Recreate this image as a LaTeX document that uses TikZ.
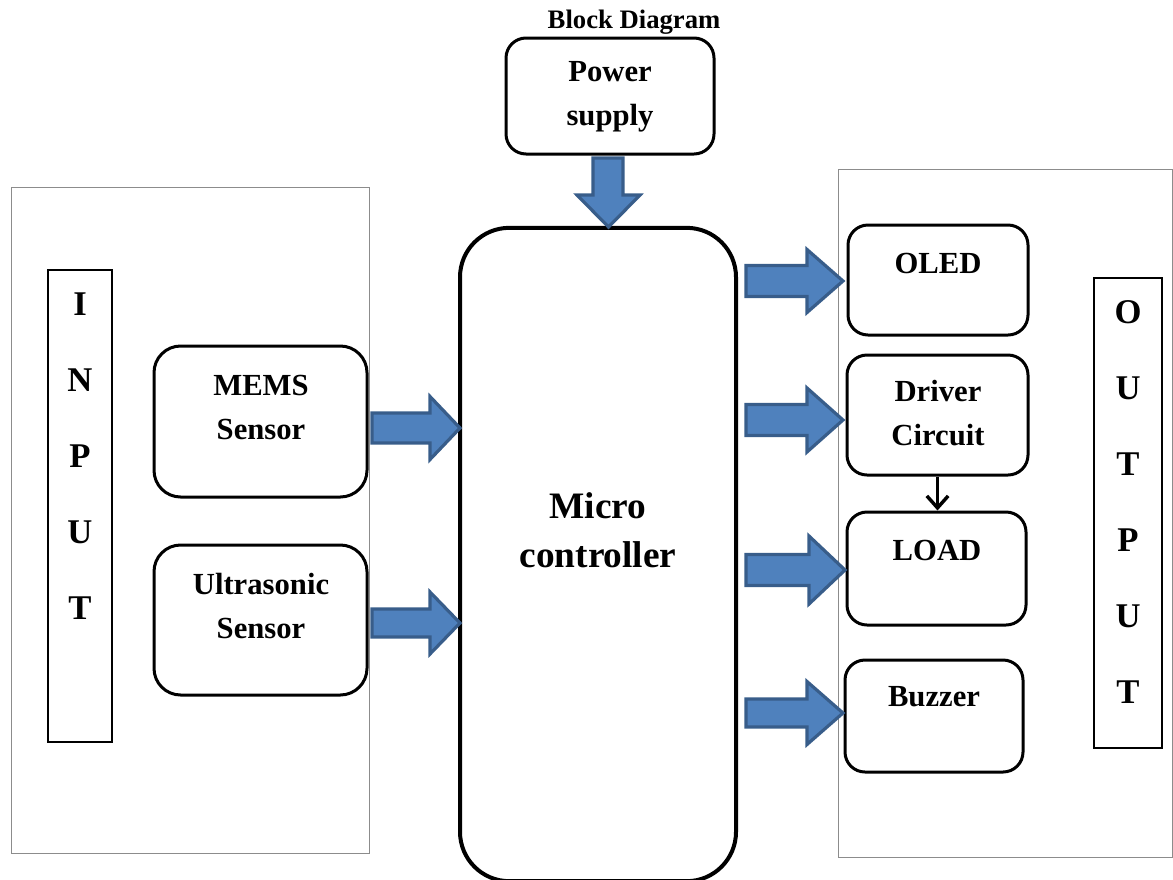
\documentclass[tikz,border=0pt]{standalone}
\usepackage{fontspec}
\setmainfont{Liberation Serif}
\usetikzlibrary{arrows.meta}
\definecolor{arrowfill}{HTML}{4F81BD}
\definecolor{arrowline}{HTML}{385D8A}
\definecolor{panelgray}{HTML}{8C8C8C}
\newcommand\rblock[6]{\draw[blockarrow] (#1,{#3-#5}) -- ({#2-#4},{#3-#5}) -- ({#2-#4},{#3-#6}) -- (#2,#3) -- ({#2-#4},{#3+#6}) -- ({#2-#4},{#3+#5}) -- (#1,{#3+#5}) -- cycle;}
\begin{document}
\begin{tikzpicture}[x=0.75pt,y=-0.75pt,
  box/.style={draw, line width=2.25pt, rounded corners=15pt, inner sep=0pt},
  panel/.style={draw=panelgray, line width=0.75pt, inner sep=0pt},
  bar/.style={draw, line width=1.6pt, inner sep=0pt},
  txt/.style={font=\fontsize{23}{33}\selectfont\bfseries, align=center, inner sep=0pt},
  bigtxt/.style={font=\fontsize{28}{36.75}\selectfont\bfseries, align=center, inner sep=0pt},
  lettxt/.style={font=\fontsize{26}{57}\selectfont\bfseries, align=center, inner sep=0pt},
  blockarrow/.style={fill=arrowfill, draw=arrowline, line width=2.4pt, line join=miter}]
\useasboundingbox (0,0) rectangle (1173,879);

% panels
\node[panel, minimum width=268.5pt, minimum height=499.5pt] (inpanel) at (190,520) {};
\node[panel, minimum width=250.5pt, minimum height=516pt] (outpanel) at (1005,513) {};

% title
\node[font=\fontsize{20}{24}\selectfont\bfseries, inner sep=0pt, anchor=base] (title) at (634,28) {Block Diagram};

% boxes
\node[box, minimum width=156pt, minimum height=87pt] (power) at (610,96) {};
\node[box, line width=3pt, rounded corners=37pt, minimum width=207pt, minimum height=490pt] (mcu) at (598,554.5) {};
\node[box, rounded corners=20pt, minimum width=159.75pt, minimum height=113.25pt] (mems) at (260.5,421.5) {};
\node[box, rounded corners=20pt, minimum width=159.75pt, minimum height=112.5pt] (ultra) at (260.5,620) {};
\node[box, minimum width=135pt, minimum height=82.5pt] (oled) at (938,280) {};
\node[box, minimum width=135.75pt, minimum height=90pt] (driver) at (937.5,415) {};
\node[box, minimum width=134.25pt, minimum height=84.75pt] (load) at (936.5,568.5) {};
\node[box, minimum width=133.5pt, minimum height=84pt] (buzzer) at (934,716) {};

% input / output bars
\node[bar, minimum width=48pt, minimum height=354pt] (inbar) at (80,506) {};
\node[bar, minimum width=51pt, minimum height=352.5pt] (outbar) at (1128,513) {};

% texts
\node[txt] (powerT) at (610,97) {Power\\supply};
\node[bigtxt] (mcuT) at (598,530) {Micro\\controller};
\node[txt] (memsT) at (261,407) {MEMS\\Sensor};
\node[txt] (ultraT) at (261,606) {Ultrasonic\\Sensor};
\node[txt] (oledT) at (938,263) {OLED};
\node[txt] (driverT) at (938,413) {Driver\\Circuit};
\node[txt] (loadT) at (937,550) {LOAD};
\node[txt] (buzzerT) at (934,697) {Buzzer};
\node[lettxt] (inT) at (80,456) {I\\N\\P\\U\\T};
\node[lettxt] (outT) at (1128,502) {O\\U\\T\\P\\U\\T};

% block arrows
\draw[blockarrow] (593,158) -- (623,158) -- (623,195) -- (640,195) -- (608.5,227) -- (577,195) -- (593,195) -- cycle;
\rblock{372}{460}{428}{30}{15}{31.5}
\rblock{372}{460}{623}{30}{14}{31}
\rblock{746}{843}{281}{36}{15.5}{31.5}
\rblock{746}{843}{420}{36}{15.5}{32}
\rblock{746}{845}{570}{36}{15.5}{34}
\rblock{746}{843}{713}{36}{14}{31.5}

% connector
\draw[line width=2.6pt, -{Straight Barb[length=9pt,width=16pt,line width=2.6pt]}] (driver.south) -- (driver.south |- load.north);
\end{tikzpicture}
\end{document}
